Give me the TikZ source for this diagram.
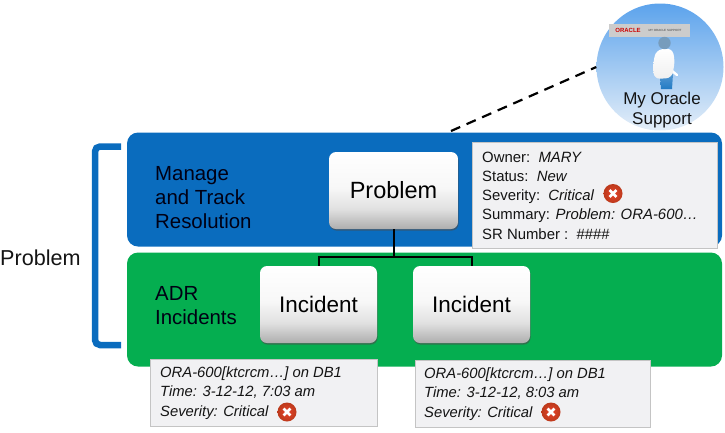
\documentclass[tikz,border=0pt]{standalone}
\usepackage{fontspec}
\setmainfont{Liberation Sans}
\usetikzlibrary{shadows,calc}
\definecolor{bandblue}{HTML}{0A6CBE}
\definecolor{bandgreen}{HTML}{05AE50}
\definecolor{panelfill}{HTML}{F1F1F3}
\definecolor{panelline}{HTML}{C4C4C4}
\definecolor{inktext}{HTML}{141414}
\definecolor{badgetop}{HTML}{5CA3EC}
\definecolor{badgemid}{HTML}{B4D0EE}
\definecolor{badgelow}{HTML}{E4EEF8}
\definecolor{iconred}{HTML}{E8432A}
\definecolor{iconrim}{HTML}{BC3A1C}
\pgfdeclareverticalshading{tileshade}{100bp}{
  color(0bp)=(black!32); color(25bp)=(black!32); color(38bp)=(black!12);
  color(52bp)=(black!3); color(75bp)=(white); color(100bp)=(white)}
\tikzset{
  band/.style={draw=none,rounded corners=11pt,inner sep=0pt},
  tile/.style={rounded corners=7pt,inner sep=0pt,minimum height=77pt,
    shading=tileshade,
    drop shadow={shadow xshift=0.6pt,shadow yshift=-1.6pt,opacity=.6,fill=black!70},
    text=black},
  panel/.style={draw=panelline,line width=1pt,fill=panelfill,inner sep=0pt},
  panelhead/.style={anchor=west,inner sep=0pt,text=inktext,align=left},
  bandlabel/.style={anchor=west,inner sep=0pt,align=left,text=black!92!blue,
    font=\fontsize{20.4}{24}\selectfont},
  wire/.style={draw=black,line width=2pt},
  erricon/.style={circle,minimum size=19pt,inner sep=0pt,inner color=iconred,outer color=iconrim,
    path picture={
      \draw[white,line width=2.6pt]
        ($(path picture bounding box.center)+(-3.4,-3.4)$) -- ++(6.8,6.8)
        ($(path picture bounding box.center)+(-3.4,3.4)$) -- ++(6.8,-6.8);
    }}
}
\begin{document}
\begin{tikzpicture}[x=1pt,y=-1pt]
\useasboundingbox (0,0) rectangle (725,432);

% circular badge for the support site
\node (support) at (660,67) [circle,minimum size=127pt,inner sep=0pt,
  top color=badgetop,middle color=badgemid,bottom color=badgelow] {};
\node (logo) at (649.5,30.5) [fill=black!20,minimum width=81pt,minimum height=13pt,inner sep=0pt] {};
\node (logotext) at (628,30.3) [inner sep=0pt,text=red!80!black,font=\bfseries\fontsize{6}{6}\selectfont] {ORACLE};
\node (logosub) at (665,30.8) [inner sep=0pt,text=black!75,font=\fontsize{3}{3}\selectfont] {MY ORACLE SUPPORT};
% figure standing in the badge
\shade[top color=bandblue!70!white,bottom color=bandblue!90!white] (660,74) -- (673,74) -- (672,89) -- (661,89) -- cycle;
\draw[white,line width=2.4pt,line cap=round] (671,70) -- (677,75);
\shade[top color=white,bottom color=black!6,rounded corners=6pt] (656,50) -- (672,48) -- (675,60) -- (672,78) -- (654,79) -- (653,64) -- cycle;
\fill[black!30!bandblue!55!white] (664.5,43) circle (6.2pt);
\node (supporttext) at (662,110) [inner sep=0pt,align=center,text=inktext,font=\fontsize{17}{20}\selectfont] {My Oracle\\Support};

% lead from the blue band to the badge
\coordinate (leadstart) at (451,131);
\draw[black,line width=2.2pt,dash pattern=on 10pt off 7pt] (leadstart) -- (support.west);

% bracket gathering both bands
\coordinate (bracktop) at (121,146.5);
\coordinate (brackbot) at (121,345);
\draw[bandblue,line width=6.5pt,rounded corners=5pt] (bracktop) -- (95,146.5) -- (95,345) -- (brackbot);
\node (problemside) at (0,258) [anchor=west,inner sep=0pt,text=inktext,font=\fontsize{21.6}{26}\selectfont] {Problem};

% bands
\node (blueband) at (424.5,189.5) [band,fill=bandblue,minimum width=595pt,minimum height=114pt] {};
\node (greenband) at (424.5,309.5) [band,fill=bandgreen,minimum width=595pt,minimum height=114pt] {};

\node (managetext) at (155,197.5) [bandlabel] {Manage\\and Track\\Resolution};
\node (adrtext) at (155,305.5) [bandlabel] {ADR\\Incidents};

% problem details
\node (detailpanel) at (594.5,195) [panel,minimum width=245pt,minimum height=106pt] {};
\node (detailtext) at (482,195.5) [panelhead,font=\fontsize{14.9}{19.3}\selectfont]
  {Owner:\ \ \textit{MARY}\\Status:\ \ \textit{New}\\Severity:\ \ \textit{Critical}\\Summary: \textit{Problem: ORA-600…}\\SR Number :\ \ \#\#\#\#};
\node (detailicon) at (613,193.5) [erricon] {};

% tree of problem and incidents
\node (problembox) at (393.5,190.5) [tile,minimum width=129pt,font=\fontsize{23.5}{27}\selectfont] {Problem};
\node (incidentone) at (318.5,304.5) [tile,minimum width=117pt,font=\fontsize{22.5}{27}\selectfont] {Incident};
\node (incidenttwo) at (471.5,304.5) [tile,minimum width=117pt,font=\fontsize{22.5}{27}\selectfont] {Incident};
\coordinate (treejoint) at (393.5,257);
\draw[wire] (problembox.south) -- (treejoint);
\draw[wire] (treejoint) -| (incidentone.north);
\draw[wire] (treejoint) -| (incidenttwo.north);

% incident details
\node (notepanelone) at (263.5,392.5) [panel,minimum width=227pt,minimum height=67pt] {};
\node (notetextone) at (160,393) [panelhead,font=\itshape\fontsize{14.8}{19.5}\selectfont]
  {ORA-600[ktcrcm…] on DB1\\Time: 3-12-12, 7:03 am\\Severity: Critical};
\node (noteiconone) at (287,412) [erricon] {};

\node (notepaneltwo) at (532.5,393.5) [panel,minimum width=235pt,minimum height=67pt] {};
\node (notetexttwo) at (424,394) [panelhead,font=\itshape\fontsize{14.8}{19.5}\selectfont]
  {ORA-600[ktcrcm…] on DB1\\Time: 3-12-12, 8:03 am\\Severity: Critical};
\node (noteicontwo) at (551,412) [erricon] {};
\end{tikzpicture}
\end{document}
